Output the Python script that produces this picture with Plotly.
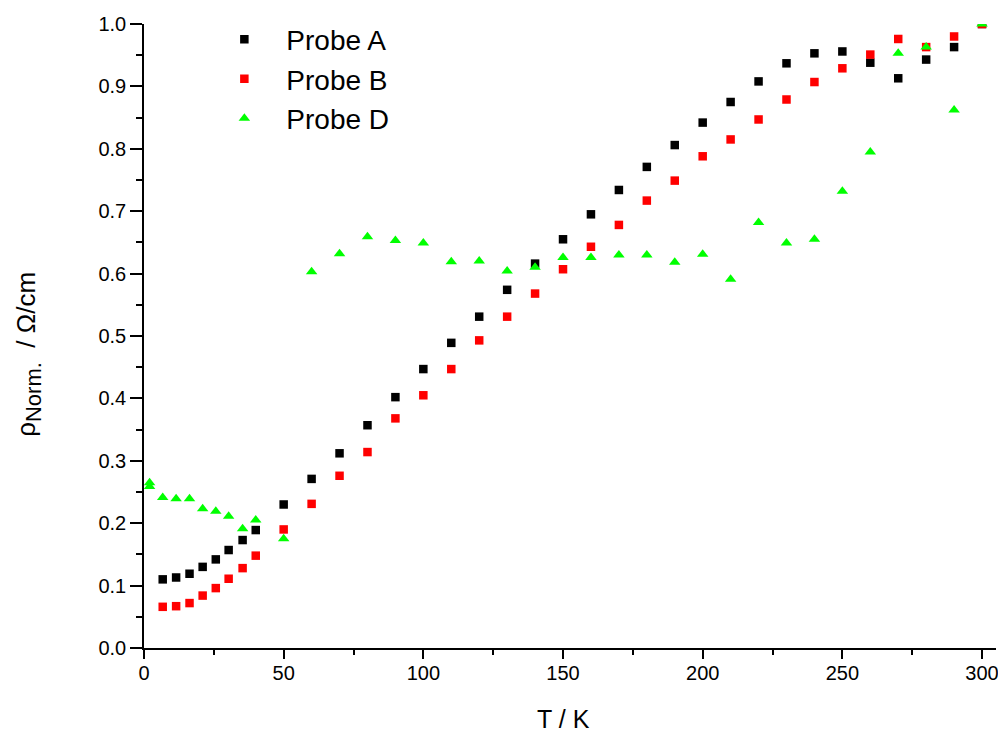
import plotly.graph_objects as go

# Temperatures (K)
T_low = [6.7, 11.5, 16.3, 21.0, 25.7, 30.3, 35.3, 40.0, 50]
T_high = [60, 70, 80, 90, 100, 110, 120, 130, 140, 150, 160, 170, 180, 190,
          200, 210, 220, 230, 240, 250, 260, 270, 280, 290, 300]
T_D_extra = [2, 2]

# Normalised resistivity
probe_A_low = [0.110, 0.113, 0.119, 0.130, 0.142, 0.157, 0.173, 0.189, 0.230]
probe_A_high = [0.271, 0.312, 0.357, 0.402, 0.447, 0.489, 0.531, 0.574, 0.616, 0.655,
                0.695, 0.734, 0.771, 0.806, 0.842, 0.875, 0.908, 0.937, 0.953, 0.956,
                0.938, 0.913, 0.943, 0.963, 1.000]

probe_B_low = [0.066, 0.067, 0.072, 0.084, 0.096, 0.111, 0.128, 0.148, 0.190]
probe_B_high = [0.231, 0.276, 0.314, 0.368, 0.405, 0.447, 0.493, 0.531, 0.568, 0.607,
                0.643, 0.678, 0.717, 0.749, 0.788, 0.815, 0.847, 0.879, 0.907, 0.929,
                0.951, 0.976, 0.963, 0.980, 1.000]

probe_D_extra = [0.265, 0.259]
probe_D_low = [0.241, 0.239, 0.239, 0.223, 0.219, 0.211, 0.191, 0.205, 0.175]
probe_D_high = [0.603, 0.632, 0.659, 0.653, 0.649, 0.619, 0.620, 0.604, 0.610, 0.626,
                0.626, 0.630, 0.630, 0.618, 0.631, 0.591, 0.682, 0.649, 0.655, 0.732,
                0.795, 0.953, 0.963, 0.862, 1.000]

names = ["Probe A", "Probe B", "Probe D"]
colors = ["#000000", "#ff0000", "#00ff00"]
symbols = ["square", "square", "triangle-up"]

FONT = "Liberation Sans, Arial, sans-serif"

fig = go.Figure()
fig.add_trace(go.Scatter(x=T_low + T_high, y=probe_A_low + probe_A_high, mode="markers",
                         name=names[0],
                         marker=dict(symbol=symbols[0], size=8.5, color=colors[0], line=dict(width=0))))
fig.add_trace(go.Scatter(x=T_low + T_high, y=probe_B_low + probe_B_high, mode="markers",
                         name=names[1],
                         marker=dict(symbol=symbols[1], size=8.5, color=colors[1], line=dict(width=0))))
fig.add_trace(go.Scatter(x=T_D_extra + T_low + T_high, y=probe_D_extra + probe_D_low + probe_D_high,
                         mode="markers", name=names[2],
                         marker=dict(symbol=symbols[2], size=10, color=colors[2], line=dict(width=0))))

axis_common = dict(showline=True, linecolor="black", linewidth=1.5, showgrid=False, zeroline=False,
                   ticks="outside", tickcolor="black", tickwidth=1.5,
                   tickfont=dict(family=FONT, size=20, color="black"))

fig.update_layout(
    width=998, height=732,
    margin=dict(l=136, r=10, t=16, b=92, autoexpand=False),
    paper_bgcolor="white", plot_bgcolor="white",
    font=dict(family=FONT, color="black"),
    showlegend=True,
    legend=dict(x=0.0685, y=1.015, xanchor="left", yanchor="top", bgcolor="rgba(0,0,0,0)",
                font=dict(family=FONT, size=28, color="black"), itemwidth=74,
                tracegroupgap=0),
    xaxis=dict(range=[0, 305], tickvals=[0, 50, 100, 150, 200, 250, 300], ticklen=9,
               ticklabelstandoff=-3,
               minor=dict(dtick=25, tick0=0, ticks="outside", ticklen=5, tickcolor="black", tickwidth=1.5),
               **axis_common),
    yaxis=dict(range=[0, 1.0], dtick=0.1, tick0=0, tickformat=".1f", ticklen=12,
               minor=dict(dtick=0.05, tick0=0, ticks="outside", ticklen=6, tickcolor="black", tickwidth=1.5),
               **axis_common),
    annotations=[
        dict(text="T / K", xref="paper", yref="paper", x=0.492, y=-0.113,
             xanchor="center", yanchor="middle", showarrow=False,
             font=dict(family=FONT, size=25, color="black")),
        dict(text="ρ<sub><span style=\"font-size:22px\">Norm.</span></sub>&nbsp;&nbsp;/&nbsp;Ω/cm",
             xref="paper", yref="paper", x=-0.136, y=0.47,
             xanchor="center", yanchor="middle", showarrow=False, textangle=-90,
             font=dict(family=FONT, size=26, color="black")),
    ],
)

fig.write_html("out.html")
